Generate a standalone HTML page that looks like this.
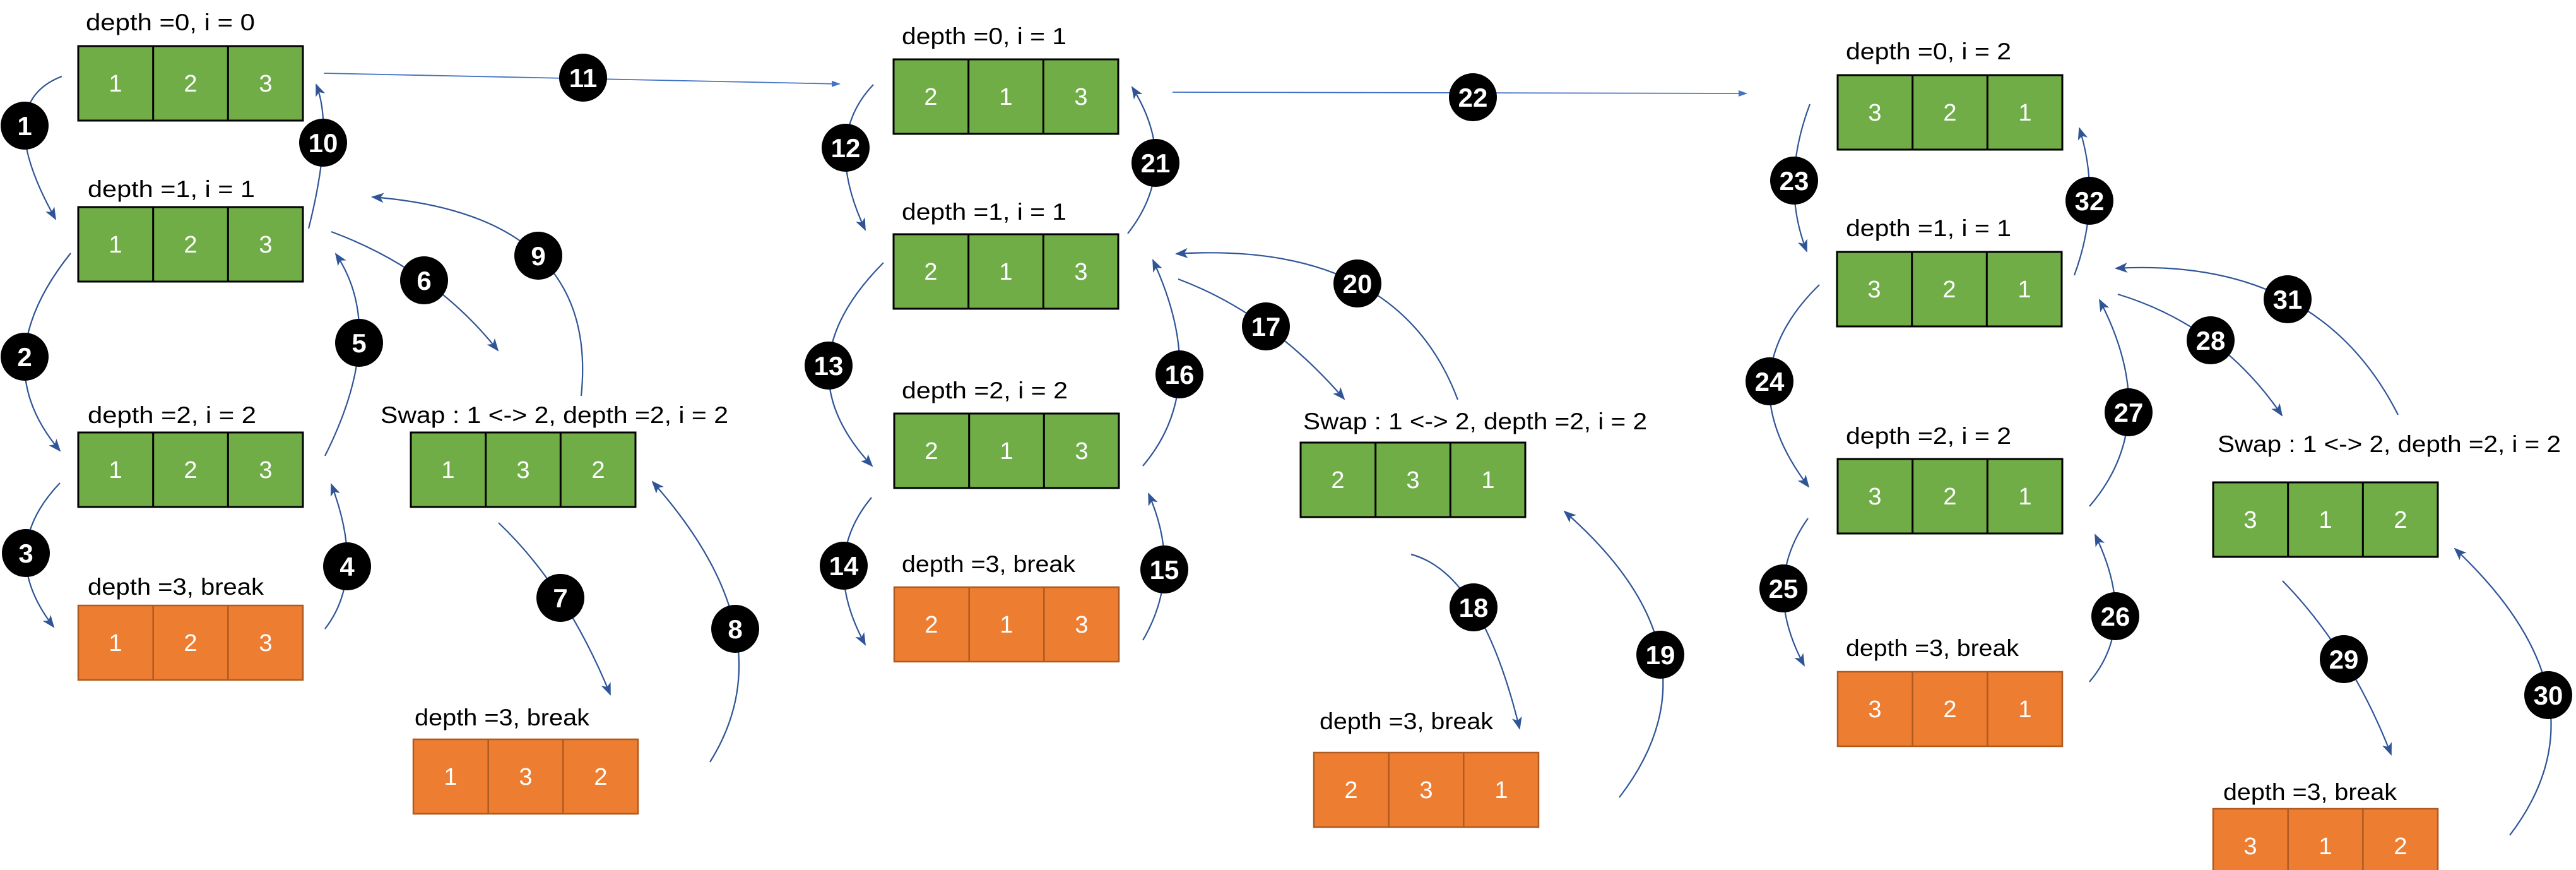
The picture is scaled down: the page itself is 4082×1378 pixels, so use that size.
<!DOCTYPE html>
<html><head><meta charset="utf-8"><style>
html,body{margin:0;padding:0;background:#fff}
svg{display:block}
.lb{font-family:"Liberation Sans",sans-serif;font-size:37px;fill:#000}
.cn{font-family:"Liberation Sans",sans-serif;font-size:38px;fill:#fff;text-anchor:middle}
.cc{font-family:"Liberation Sans",sans-serif;font-size:42px;font-weight:bold;fill:#fff;text-anchor:middle}
.ar{fill:none;stroke:#2F5597;stroke-width:2.2;marker-end:url(#ah)}
.st{fill:none;stroke:#4472C4;stroke-width:1.8;marker-end:url(#ah2)}
</style></head><body>
<svg width="4082" height="1378" viewBox="0 0 4082 1378" xmlns="http://www.w3.org/2000/svg">
<defs>
<marker id="ah" markerWidth="10" markerHeight="10" refX="8" refY="5" orient="auto" markerUnits="userSpaceOnUse" viewBox="0 0 10 10"><path d="M0,0 L10,5 L0,10 L3,5 z" fill="#2F5597" transform="scale(1)"/></marker>
<marker id="ah2" markerWidth="14" markerHeight="14" refX="12" refY="7" orient="auto" markerUnits="userSpaceOnUse" viewBox="0 0 14 14"><path d="M0,2 L14,7 L0,12 z" fill="#4472C4"/></marker>
<g id="gb"><rect x="0" y="0" width="356" height="118" fill="#70AD47" stroke="#000" stroke-width="3"/><line x1="118.7" y1="0" x2="118.7" y2="118" stroke="#000" stroke-width="3"/><line x1="237.3" y1="0" x2="237.3" y2="118" stroke="#000" stroke-width="3"/></g>
<g id="ob"><rect x="0" y="0" width="356" height="118" fill="#ED7D31" stroke="#AE5A21" stroke-width="2.5"/><line x1="118.7" y1="0" x2="118.7" y2="118" stroke="#AE5A21" stroke-width="2.5"/><line x1="237.3" y1="0" x2="237.3" y2="118" stroke="#AE5A21" stroke-width="2.5"/></g>
</defs>
<style>.ar2{}</style>
<defs><marker id="ahb" markerWidth="22" markerHeight="22" refX="18" refY="11" orient="auto" markerUnits="userSpaceOnUse" viewBox="0 0 22 22"><path d="M0,3 L20,11 L0,19 L5,11 z" fill="#2F5597"/></marker></defs>

<!-- connectors -->
<g fill="none" stroke="#2F5597" stroke-width="2.2" marker-end="url(#ahb)">
<path d="M98,121 Q-15,164 88,347"/>
<path d="M112,401 Q-25.5,572.5 95,714"/>
<path d="M95,765 Q-8,873 85,993"/>
<path d="M515,996 Q580,912.5 525,767"/>
<path d="M515,722 Q614.5,524 532,402"/>
<path d="M525,367 Q687,427 789,555"/>
<path d="M790,828 Q897.5,930 967,1100"/>
<path d="M1125,1207 Q1250.5,1007 1034,763"/>
<path d="M921,627 Q950.5,340.5 590,312"/>
<path d="M489,362 Q529,204 501,134"/>
<path d="M1384,134 Q1302.5,219 1371,364"/>
<path d="M1400,416 Q1235,581 1382,738"/>
<path d="M1381,788 Q1298,887.5 1371,1021"/>
<path d="M1811,1014 Q1874.5,906 1820,782"/>
<path d="M1811,738 Q1919,611 1827,412"/>
<path d="M1867,442 Q2013.5,497 2130,632"/>
<path d="M2236,878 Q2348,908 2408,1154"/>
<path d="M2566,1263 Q2739.5,1037.5 2479,810"/>
<path d="M2310,633 Q2215,380.5 1864,402"/>
<path d="M1787,370 Q1871.5,262 1794,138"/>
<path d="M2868,165 Q2820.5,290.5 2863,398"/>
<path d="M2883,451 Q2733.5,597 2866,771"/>
<path d="M2865,821 Q2790,926.5 2859,1054"/>
<path d="M3311,1080 Q3388.5,988.5 3320,847"/>
<path d="M3311,802 Q3427,667.5 3327,475"/>
<path d="M3356,466 Q3520,516 3616,658"/>
<path d="M3617,920 Q3725,1030.5 3789,1195"/>
<path d="M3977,1323 Q4142.5,1106 3890,869"/>
<path d="M3800,657 Q3673.5,407 3353,425"/>
<path d="M3287,436 Q3331,316.5 3295,203"/>
</g>
<g fill="none" stroke="#4472C4" stroke-width="1.8" marker-end="url(#ah2)">
<path d="M513,116 L1330,133"/>
<path d="M1858,146 L2767,148"/>
</g>

<!-- boxes -->
<use href="#gb" x="124" y="73"/><use href="#gb" x="124" y="328"/><use href="#gb" x="124" y="685"/><use href="#ob" x="124" y="959"/><use href="#gb" x="651" y="685"/><use href="#ob" x="655" y="1171"/>
<use href="#gb" x="1416" y="94"/><use href="#gb" x="1416" y="371"/><use href="#gb" x="1417" y="655"/><use href="#ob" x="1417" y="930"/><use href="#gb" x="2061" y="701"/><use href="#ob" x="2082" y="1192"/>
<use href="#gb" x="2912" y="119"/><use href="#gb" x="2911" y="399"/><use href="#gb" x="2912" y="727"/><use href="#ob" x="2912" y="1064"/><use href="#gb" x="3507" y="764"/><use href="#ob" x="3507" y="1281"/>

<!-- cell numbers -->
<g class="cn">
<text x="183" y="145">1</text><text x="302" y="145">2</text><text x="421" y="145">3</text>
<text x="183" y="400">1</text><text x="302" y="400">2</text><text x="421" y="400">3</text>
<text x="183" y="757">1</text><text x="302" y="757">2</text><text x="421" y="757">3</text>
<text x="183" y="1031">1</text><text x="302" y="1031">2</text><text x="421" y="1031">3</text>
<text x="710" y="757">1</text><text x="829" y="757">3</text><text x="948" y="757">2</text>
<text x="714" y="1243">1</text><text x="833" y="1243">3</text><text x="952" y="1243">2</text>
<text x="1475" y="166">2</text><text x="1594" y="166">1</text><text x="1713" y="166">3</text>
<text x="1475" y="443">2</text><text x="1594" y="443">1</text><text x="1713" y="443">3</text>
<text x="1476" y="727">2</text><text x="1595" y="727">1</text><text x="1714" y="727">3</text>
<text x="1476" y="1002">2</text><text x="1595" y="1002">1</text><text x="1714" y="1002">3</text>
<text x="2120" y="773">2</text><text x="2239" y="773">3</text><text x="2358" y="773">1</text>
<text x="2141" y="1264">2</text><text x="2260" y="1264">3</text><text x="2379" y="1264">1</text>
<text x="2971" y="191">3</text><text x="3090" y="191">2</text><text x="3209" y="191">1</text>
<text x="2970" y="471">3</text><text x="3089" y="471">2</text><text x="3208" y="471">1</text>
<text x="2971" y="799">3</text><text x="3090" y="799">2</text><text x="3209" y="799">1</text>
<text x="2971" y="1136">3</text><text x="3090" y="1136">2</text><text x="3209" y="1136">1</text>
<text x="3566" y="836">3</text><text x="3685" y="836">1</text><text x="3804" y="836">2</text>
<text x="3566" y="1353">3</text><text x="3685" y="1353">1</text><text x="3804" y="1353">2</text>
</g>

<!-- labels -->
<g class="lb">
<text x="136" y="48" textLength="268" lengthAdjust="spacingAndGlyphs">depth =0, i = 0</text>
<text x="139" y="312" textLength="265" lengthAdjust="spacingAndGlyphs">depth =1, i = 1</text>
<text x="139" y="670" textLength="267" lengthAdjust="spacingAndGlyphs">depth =2, i = 2</text>
<text x="139" y="942" textLength="279" lengthAdjust="spacingAndGlyphs">depth =3, break</text>
<text x="603" y="670" textLength="551" lengthAdjust="spacingAndGlyphs">Swap : 1 &lt;-&gt; 2, depth =2, i = 2</text>
<text x="657" y="1149" textLength="277" lengthAdjust="spacingAndGlyphs">depth =3, break</text>
<text x="1429" y="70" textLength="261" lengthAdjust="spacingAndGlyphs">depth =0, i = 1</text>
<text x="1429" y="348" textLength="261" lengthAdjust="spacingAndGlyphs">depth =1, i = 1</text>
<text x="1429" y="631" textLength="263" lengthAdjust="spacingAndGlyphs">depth =2, i = 2</text>
<text x="1429" y="906" textLength="275" lengthAdjust="spacingAndGlyphs">depth =3, break</text>
<text x="2065" y="680" textLength="545" lengthAdjust="spacingAndGlyphs">Swap : 1 &lt;-&gt; 2, depth =2, i = 2</text>
<text x="2091" y="1155" textLength="275" lengthAdjust="spacingAndGlyphs">depth =3, break</text>
<text x="2925" y="94" textLength="262" lengthAdjust="spacingAndGlyphs">depth =0, i = 2</text>
<text x="2925" y="374" textLength="262" lengthAdjust="spacingAndGlyphs">depth =1, i = 1</text>
<text x="2925" y="703" textLength="262" lengthAdjust="spacingAndGlyphs">depth =2, i = 2</text>
<text x="2925" y="1039" textLength="274" lengthAdjust="spacingAndGlyphs">depth =3, break</text>
<text x="3514" y="716" textLength="544" lengthAdjust="spacingAndGlyphs">Swap : 1 &lt;-&gt; 2, depth =2, i = 2</text>
<text x="3523" y="1267" textLength="275" lengthAdjust="spacingAndGlyphs">depth =3, break</text>
</g>

<!-- numbered circles -->
<g>
<circle cx="39" cy="199" r="38"/><circle cx="39" cy="565" r="38"/><circle cx="41" cy="876" r="38"/><circle cx="550" cy="897" r="38"/><circle cx="569" cy="543" r="38"/><circle cx="672" cy="444" r="38"/><circle cx="888" cy="947" r="38"/><circle cx="1165" cy="996" r="38"/><circle cx="853" cy="405" r="38"/><circle cx="512" cy="226" r="38"/><circle cx="924" cy="123" r="38"/>
<circle cx="1340" cy="234" r="38"/><circle cx="1313" cy="579" r="38"/><circle cx="1337" cy="896" r="38"/><circle cx="1845" cy="902" r="38"/><circle cx="1869" cy="593" r="38"/><circle cx="2006" cy="517" r="38"/><circle cx="2335" cy="962" r="38"/><circle cx="2631" cy="1037" r="38"/><circle cx="2151" cy="449" r="38"/><circle cx="1831" cy="258" r="38"/><circle cx="2334" cy="154" r="38"/>
<circle cx="2843" cy="286" r="38"/><circle cx="2804" cy="604" r="38"/><circle cx="2826" cy="932" r="38"/><circle cx="3352" cy="976" r="38"/><circle cx="3373" cy="653" r="38"/><circle cx="3503" cy="539" r="38"/><circle cx="3714" cy="1044" r="38"/><circle cx="4038" cy="1101" r="38"/><circle cx="3625" cy="474" r="38"/><circle cx="3311" cy="318" r="38"/>
</g>
<g class="cc">
<text x="39" y="214">1</text><text x="39" y="580">2</text><text x="41" y="891">3</text><text x="550" y="912">4</text><text x="569" y="558">5</text><text x="672" y="459">6</text><text x="888" y="962">7</text><text x="1165" y="1011">8</text><text x="853" y="420">9</text><text x="512" y="241">10</text><text x="924" y="138">11</text>
<text x="1340" y="249">12</text><text x="1313" y="594">13</text><text x="1337" y="911">14</text><text x="1845" y="917">15</text><text x="1869" y="608">16</text><text x="2006" y="532">17</text><text x="2335" y="977">18</text><text x="2631" y="1052">19</text><text x="2151" y="464">20</text><text x="1831" y="273">21</text><text x="2334" y="169">22</text>
<text x="2843" y="301">23</text><text x="2804" y="619">24</text><text x="2826" y="947">25</text><text x="3352" y="991">26</text><text x="3373" y="668">27</text><text x="3503" y="554">28</text><text x="3714" y="1059">29</text><text x="4038" y="1116">30</text><text x="3625" y="489">31</text><text x="3311" y="333">32</text>
</g>
</svg>
</body></html>
